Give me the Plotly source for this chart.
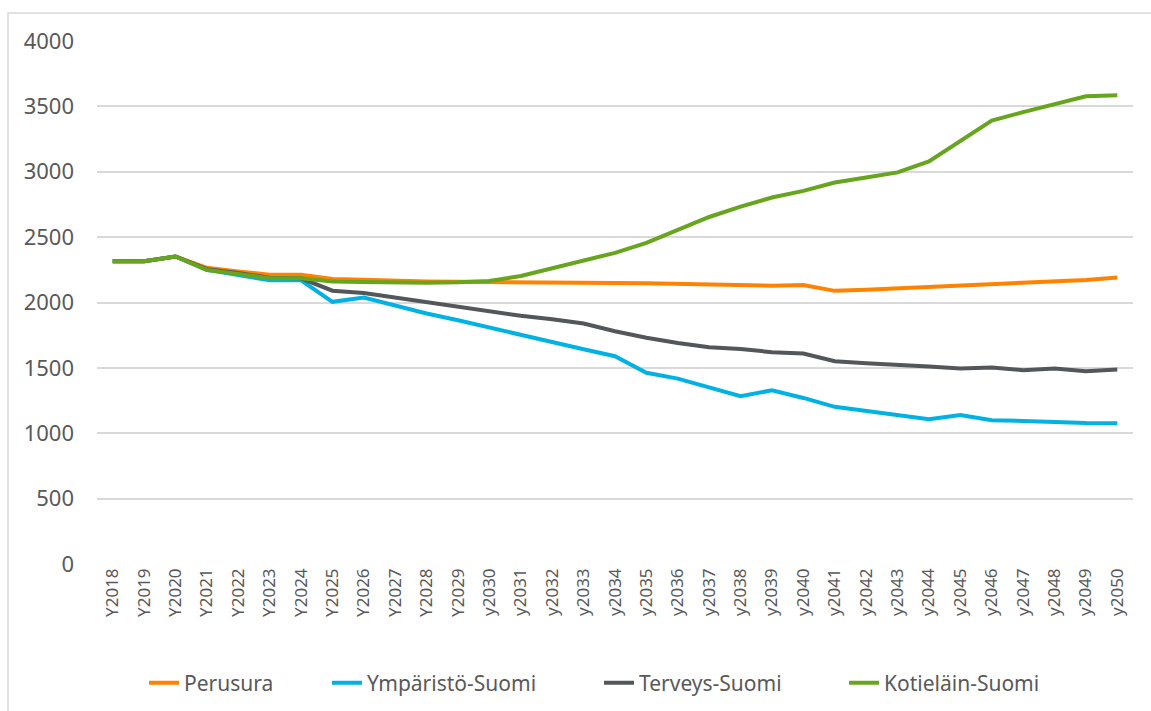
import plotly.graph_objects as go

# years as category labels (upper-case Y until 2029, lower-case after)
years = ["Y%d" % y for y in range(2018, 2030)] + ["y%d" % y for y in range(2030, 2051)]

perusura = [2316, 2316, 2352, 2265, 2238, 2212, 2212, 2179, 2174, 2166, 2161, 2158,
            2155, 2155, 2155, 2152, 2150, 2148, 2143, 2135, 2128, 2128, 2133, 2089,
            2097, 2107, 2120, 2130, 2140, 2150, 2161, 2173, 2191]
ymparisto = [2316, 2316, 2352, 2249, 2210, 2170, 2170, 2005, 2038, 1974, 1916, 1864,
             1808, 1752, 1693, 1642, 1589, 1462, 1418, 1352, 1283, 1329, 1270, 1202,
             1171, 1135, 1107, 1140, 1099, 1094, 1084, 1079, 1077]
terveys = [2316, 2316, 2352, 2255, 2225, 2190, 2185, 2090, 2072, 2038, 2000, 1972,
           1936, 1898, 1872, 1839, 1780, 1730, 1691, 1658, 1645, 1620, 1610, 1551,
           1536, 1526, 1510, 1495, 1503, 1482, 1495, 1474, 1487]
kotielain = [2316, 2316, 2352, 2249, 2219, 2185, 2185, 2160, 2157, 2152, 2152, 2155,
             2165, 2203, 2262, 2321, 2380, 2456, 2559, 2654, 2733, 2803, 2854, 2918,
             2956, 2995, 3079, 3238, 3392, 3456, 3520, 3577, 3585]

series = [
    ("Perusura", perusura, "#FF8300"),
    ("Ympäristö-Suomi", ymparisto, "#00B2E3"),
    ("Terveys-Suomi", terveys, "#53575A"),
    ("Kotieläin-Suomi", kotielain, "#67A51E"),
]

# pixel where each legend text starts in the reference
legend_text_px = [186, 369, 641, 886]
W, H = 1151, 711

fig = go.Figure()
layout_legends = {}
for i, (name, vals, col) in enumerate(series):
    key = "legend" if i == 0 else "legend%d" % (i + 1)
    fig.add_trace(go.Scatter(
        x=years, y=vals, name=name, mode="lines",
        line=dict(color=col, width=4), legend=key,
    ))
    # container refs so the legends don't push the plot margins
    layout_legends[key] = dict(
        orientation="h", xref="container", yref="container",
        x=(legend_text_px[i] - 42) / W, xanchor="left",
        y=(H - 683) / H, yanchor="middle",
        font=dict(size=21), bgcolor="rgba(0,0,0,0)",
    )

fig.update_layout(
    width=W, height=H,
    margin=dict(l=97, r=18, t=41, b=147),
    plot_bgcolor="white", paper_bgcolor="white",
    font=dict(family="Noto Sans", color="#595959"),
    showlegend=True,
    xaxis=dict(
        type="category", tickangle=-90, tickfont=dict(size=17),
        range=[-0.5, len(years) - 0.5],
        showgrid=False, zeroline=False, showline=False, ticks="",
    ),
    yaxis=dict(
        range=[0, 4000], dtick=500, tickfont=dict(size=22),
        showgrid=True, gridcolor="#D9D9D9", gridwidth=1.5,
        zeroline=False, showline=False, ticklabelstandoff=22,
    ),
    **layout_legends,
)

# chart-area border (light grey frame, cut off at right and bottom)
fig.add_shape(type="rect", xref="paper", yref="paper",
              x0=-89 / 1036, x1=1.05, y0=-0.3, y1=1 + 28 / 523,
              line=dict(color="#D9D9D9", width=1.5), fillcolor="rgba(0,0,0,0)",
              layer="below")

# remove the browser's default 8px body margin, hide the modebar
fig.write_html("out.html", config={"displayModeBar": False},
               post_script="document.body.style.margin='0';")
